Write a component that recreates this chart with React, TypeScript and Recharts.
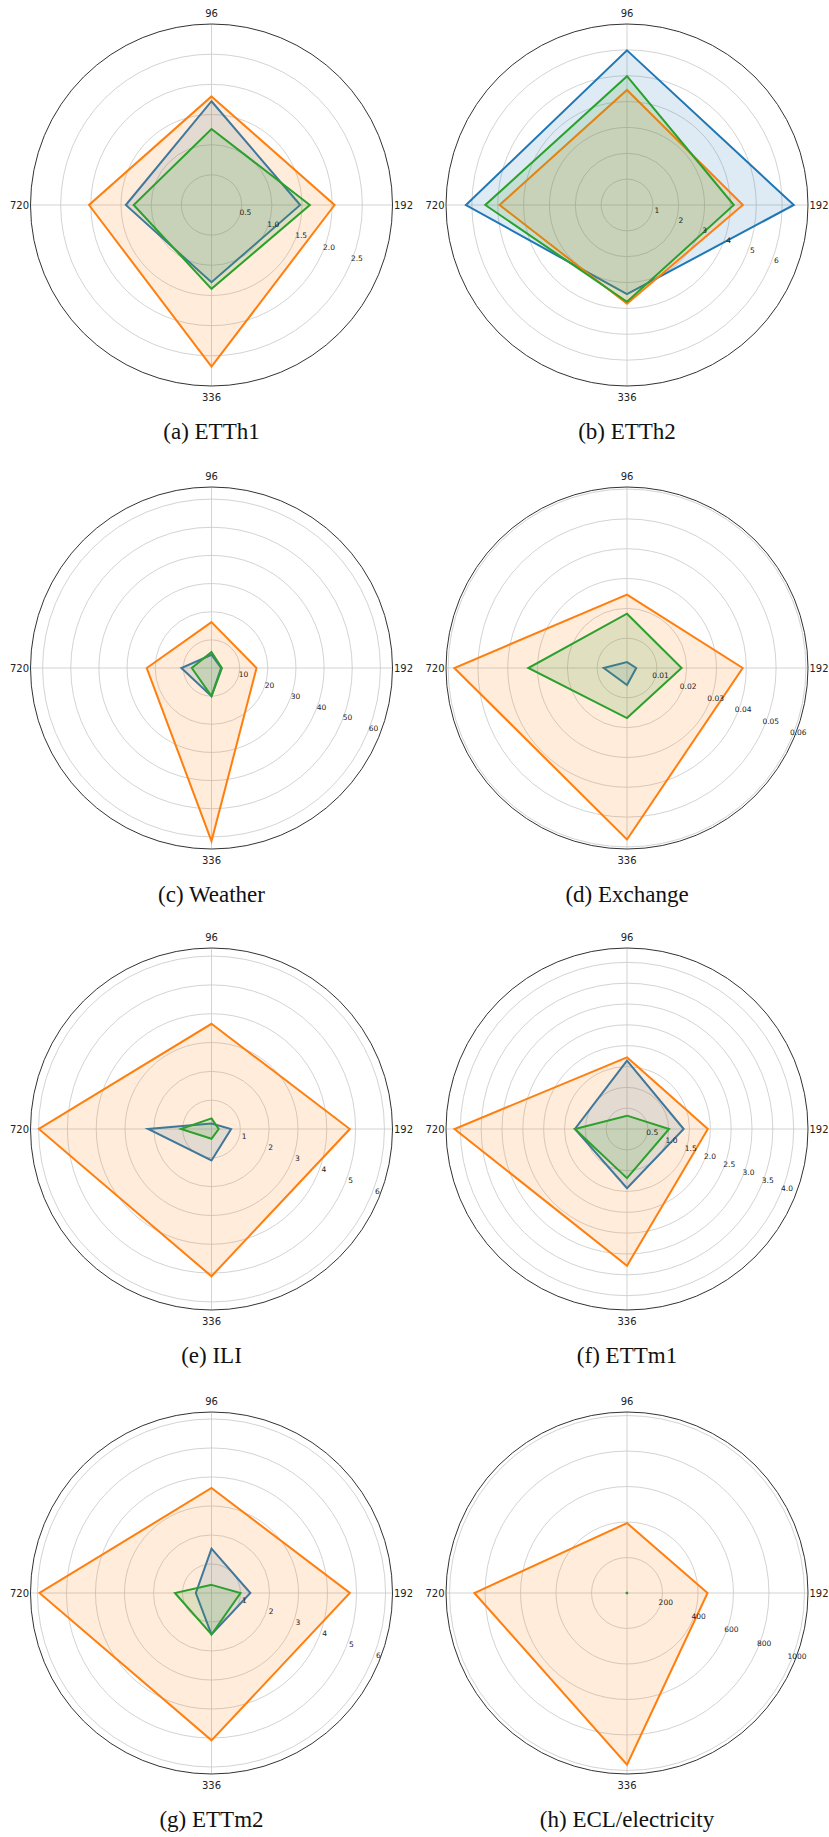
import React from 'react';
import { RadarChart, Radar, PolarGrid, PolarAngleAxis, PolarRadiusAxis } from 'recharts';

// Forecast horizons (angular categories), clockwise from top
const horizons = ['96', '192', '336', '720'];

// (a) ETTh1
const etth1Blue = [1.72, 1.47, 1.28, 1.42];
const etth1Orange = [1.80, 2.04, 2.68, 2.03];
const etth1Green = [1.26, 1.63, 1.39, 1.29];
const etth1Ticks = [0.5, 1.0, 1.5, 2.0, 2.5];

// (b) ETTh2
const etth2Blue = [5.98, 6.45, 3.45, 6.23];
const etth2Orange = [4.45, 4.48, 3.82, 4.93];
const etth2Green = [4.98, 4.13, 3.74, 5.48];
const etth2Ticks = [1, 2, 3, 4, 5, 6];

// (c) Weather
const weatherBlue = [4.7, 3.4, 10.0, 10.7];
const weatherOrange = [16.3, 16.0, 61.5, 23.0];
const weatherGreen = [5.7, 3.7, 10.0, 7.0];
const weatherTicks = [10, 20, 30, 40, 50, 60];

// (d) Exchange
const exchangeBlue = [0.0020, 0.0031, 0.0057, 0.0078];
const exchangeOrange = [0.0246, 0.0388, 0.0575, 0.0579];
const exchangeGreen = [0.0182, 0.0183, 0.0168, 0.0331];
const exchangeTicks = [0.01, 0.02, 0.03, 0.04, 0.05, 0.06];

// (e) ILI
const iliBlue = [0.19, 0.68, 1.09, 2.20];
const iliOrange = [3.65, 4.80, 5.11, 5.99];
const iliGreen = [0.37, 0.25, 0.34, 1.06];
const iliTicks = [1, 2, 3, 4, 5, 6];

// (f) ETTm1
const ettm1Blue = [1.64, 1.36, 1.42, 1.25];
const ettm1Orange = [1.72, 1.94, 3.28, 4.14];
const ettm1Green = [0.32, 1.01, 1.18, 1.25];
const ettm1Ticks = [0.5, 1.0, 1.5, 2.0, 2.5, 3.0, 3.5, 4.0];

// (g) ETTm2
const ettm2Blue = [1.53, 1.34, 1.43, 0.54];
const ettm2Orange = [3.62, 4.77, 5.08, 5.93];
const ettm2Green = [0.28, 1.0, 1.43, 1.26];
const ettm2Ticks = [1, 2, 3, 4, 5, 6];

// (h) ECL/electricity
const eclBlue = [0.8, 0.7, 0.9, 1.0];
const eclOrange = [394, 454, 967, 860];
const eclGreen = [0.6, 0.5, 0.7, 0.8];
const eclTicks = [200, 400, 600, 800, 1000];

const captions = ['(a) ETTh1', '(b) ETTh2', '(c) Weather', '(d) Exchange', '(e) ILI', '(f) ETTm1', '(g) ETTm2', '(h) ECL/electricity'];
const radiusMax = [2.763, 6.62, 64.3, 0.0607, 6.28, 4.344, 6.24, 1020];
const tickDecimals = [1, 0, 0, 2, 0, 1, 0, 0];

const panels = [
  { blue: etth1Blue, orange: etth1Orange, green: etth1Green, ticks: etth1Ticks },
  { blue: etth2Blue, orange: etth2Orange, green: etth2Green, ticks: etth2Ticks },
  { blue: weatherBlue, orange: weatherOrange, green: weatherGreen, ticks: weatherTicks },
  { blue: exchangeBlue, orange: exchangeOrange, green: exchangeGreen, ticks: exchangeTicks },
  { blue: iliBlue, orange: iliOrange, green: iliGreen, ticks: iliTicks },
  { blue: ettm1Blue, orange: ettm1Orange, green: ettm1Green, ticks: ettm1Ticks },
  { blue: ettm2Blue, orange: ettm2Orange, green: ettm2Green, ticks: ettm2Ticks },
  { blue: eclBlue, orange: eclOrange, green: eclGreen, ticks: eclTicks },
];

const COL_CX = [211.5, 627];
const ROW_CY = [205, 667.5, 1128.5, 1592.5];
const CHART_W = 415;
const CHART_H = 420;
const CY_IN = 205;
const OUTER_R = 181;

const BLUE = '#1f77b4';
const ORANGE = '#ff7f0e';
const GREEN = '#2ca02c';
const FONT = '"DejaVu Sans", sans-serif';

function Panel({ idx }: { idx: number }) {
  const p = panels[idx];
  const col = idx % 2;
  const row = Math.floor(idx / 2);
  const left = col === 0 ? 0 : 414;
  const top = ROW_CY[row] - CY_IN;
  const cx = COL_CX[col] - left;
  const data = horizons.map((h, i) => ({ h, blue: p.blue[i], orange: p.orange[i], green: p.green[i] }));
  const dec = tickDecimals[idx];

  const angleTick = (props: any) => (
    <text
      x={props.x}
      y={props.y}
      textAnchor="middle"
      dominantBaseline="central"
      fontSize={10}
      fontFamily={FONT}
      fill="#222"
    >
      {props.payload.value}
    </text>
  );

  const radiusTick = (props: any) => (
    <text
      x={props.x + 6}
      y={props.y - 4}
      textAnchor="middle"
      dominantBaseline="central"
      fontSize={7.5}
      fontFamily={FONT}
      fill="#222"
    >
      {Number(props.payload.value).toFixed(dec)}
    </text>
  );

  return (
    <div style={{ position: 'absolute', left, top, width: CHART_W, height: CHART_H }}>
      <RadarChart
        width={CHART_W}
        height={CHART_H}
        data={data}
        cx={cx}
        cy={CY_IN}
        outerRadius={OUTER_R}
        startAngle={90}
        endAngle={-270}
        margin={{ top: 0, right: 0, bottom: 0, left: 0 }}
      >
        <PolarGrid gridType="circle" stroke="#c8c8c8" strokeWidth={0.8} />
        <Radar dataKey="blue" stroke={BLUE} strokeWidth={2} fill={BLUE} fillOpacity={0.15} dot={false} isAnimationActive={false} />
        <Radar dataKey="orange" stroke={ORANGE} strokeWidth={2} fill={ORANGE} fillOpacity={0.15} dot={false} isAnimationActive={false} />
        <Radar dataKey="green" stroke={GREEN} strokeWidth={2} fill={GREEN} fillOpacity={0.15} dot={false} isAnimationActive={false} />
        <PolarAngleAxis
          dataKey="h"
          axisLineType="circle"
          axisLine={{ stroke: '#333', strokeWidth: 1 }}
          tickLine={false}
          tickSize={11}
          tick={angleTick}
        />
        <PolarRadiusAxis
          type="number"
          angle={-22.5}
          domain={[0, radiusMax[idx]]}
          ticks={p.ticks}
          allowDataOverflow
          axisLine={false}
          tickLine={false}
          tick={radiusTick}
        />
      </RadarChart>
    </div>
  );
}

export default function App() {
  return (
    <div style={{ position: 'absolute', left: 0, top: 0, width: 829, height: 1837, background: '#fff', overflow: 'hidden' }}>
      {panels.map((_, i) => (
        <Panel key={i} idx={i} />
      ))}
      <svg width={829} height={1837} style={{ position: 'absolute', left: 0, top: 0, pointerEvents: 'none' }}>
        {captions.map((c, i) => (
          <text
            key={c}
            x={COL_CX[i % 2]}
            y={ROW_CY[Math.floor(i / 2)] + 234}
            textAnchor="middle"
            fontSize={23}
            fontFamily='"Liberation Serif", "Times New Roman", serif'
            fill="#111"
          >
            {c}
          </text>
        ))}
      </svg>
    </div>
  );
}
